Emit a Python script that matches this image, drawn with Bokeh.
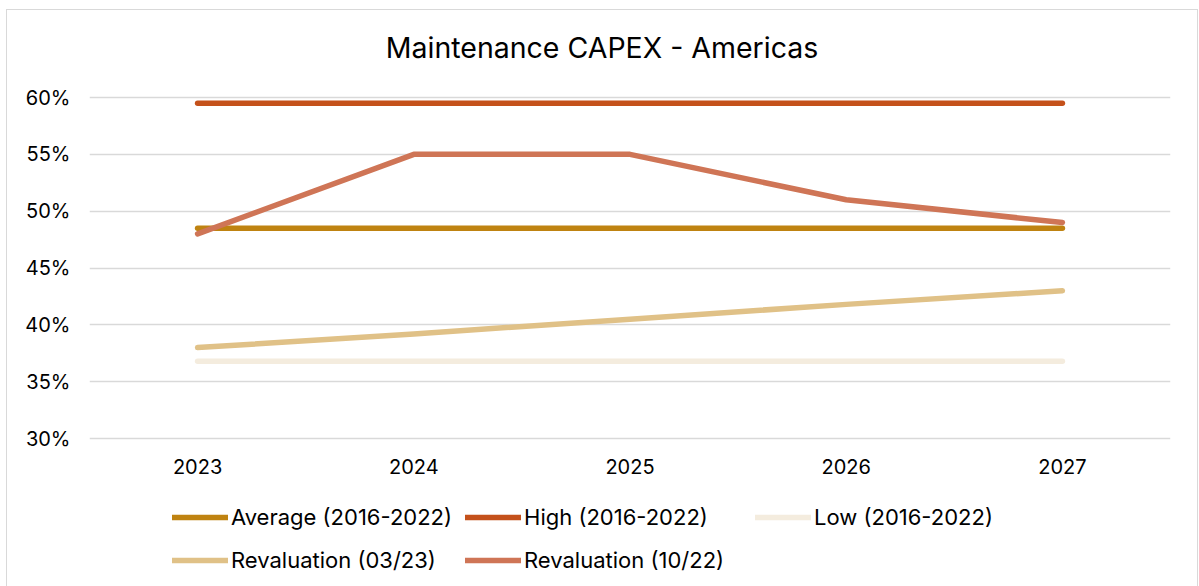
from bokeh.plotting import figure
from bokeh.models import (Range1d, FactorRange, NumeralTickFormatter, Legend,
                          LegendItem, FixedTicker, Label)
from bokeh.core.properties import value
from bokeh.embed import file_html
from bokeh.resources import INLINE

# ---- data ----
years = ["2023", "2024", "2025", "2026", "2027"]
average_2016_2022 = [0.485, 0.485, 0.485, 0.485, 0.485]
high_2016_2022 = [0.595, 0.595, 0.595, 0.595, 0.595]
low_2016_2022 = [0.368, 0.368, 0.368, 0.368, 0.368]
revaluation_0323 = [0.380, 0.392, 0.405, 0.418, 0.430]
revaluation_1022 = [0.480, 0.550, 0.550, 0.510, 0.490]
y_ticks = [0.30, 0.35, 0.40, 0.45, 0.50, 0.55, 0.60]
title_text = "Maintenance CAPEX - Americas"

series = [
    ("Average (2016-2022)", average_2016_2022, "#BF8311"),
    ("High (2016-2022)", high_2016_2022, "#C4511B"),
    ("Low (2016-2022)", low_2016_2022, "#F4ECDE"),
    ("Revaluation (03/23)", revaluation_0323, "#E0C187"),
    ("Revaluation (10/22)", revaluation_1022, "#CF7556"),
]

FONT = "Inter"

# layout constants: the frame spans the full height so that the title,
# category labels and legend can live inside it; 30%..60% map to the
# same pixel band as the reference's plot area
PX = 0.30 / 341.0
Y_TOP = 0.60 + 87 * PX
Y_BOTTOM = 0.30 - 149 * PX
YEAR_LABEL_Y = 0.30 - 27.5 * PX
TITLE_X = (601.5 - 89) / 1081 * 5
TITLE_Y = 0.60 + 50 * PX

p = figure(x_range=FactorRange(factors=years, range_padding=0),
           y_range=Range1d(Y_BOTTOM, Y_TOP),
           frame_width=1081, frame_height=577, title=None,
           x_axis_location=None,
           output_backend="svg", toolbar_location=None,
           min_border_left=82, min_border_right=27,
           min_border_top=0, min_border_bottom=0)
p.styles = {"margin-left": "6px", "margin-top": "9px",
            "border": "1px solid #D9D9D9"}
p.outline_line_color = None
p.background_fill_color = "white"
p.border_fill_color = "white"

items = []
for name, vals, col in series:
    r = p.line(x=years, y=vals, line_color=col, line_width=5.5,
               line_cap="round", line_join="round")
    items.append(LegendItem(label=name, renderers=[r]))

# category labels (x axis)
p.text(x=years, y=[YEAR_LABEL_Y] * len(years), text=years,
       text_font=value(FONT), text_font_size="20px", text_color="black",
       text_align="center", text_baseline="middle")

# y axis
p.yaxis.ticker = FixedTicker(ticks=y_ticks)
p.yaxis.formatter = NumeralTickFormatter(format="0%")
p.yaxis.axis_line_color = None
p.yaxis.major_tick_line_color = None
p.yaxis.minor_tick_line_color = None
p.yaxis.major_tick_in = 0
p.yaxis.major_tick_out = 0
p.yaxis.major_label_standoff = 19
p.yaxis.major_label_text_font = FONT
p.yaxis.major_label_text_font_size = "20px"
p.yaxis.major_label_text_color = "black"

p.xgrid.grid_line_color = None
p.ygrid.grid_line_color = "#D9D9D9"
p.ygrid.grid_line_width = 1.5
p.ygrid.ticker = FixedTicker(ticks=y_ticks)

# title
p.add_layout(Label(x=TITLE_X, y=TITLE_Y, text=title_text,
                   text_align="center", text_baseline="middle",
                   text_font=FONT, text_font_size="28.5px",
                   text_color="black"))

legend = Legend(items=items, ncols=3, orientation="horizontal",
                location=(83, 12),
                glyph_width=56, glyph_height=30, label_standoff=3,
                label_width=218, label_height=30,
                spacing=13, padding=0, margin=0,
                border_line_color=None, background_fill_alpha=0,
                label_text_font=FONT, label_text_font_size="22px",
                label_text_color="black")
p.add_layout(legend)

open("out.html", "w").write(file_html(p, INLINE))
